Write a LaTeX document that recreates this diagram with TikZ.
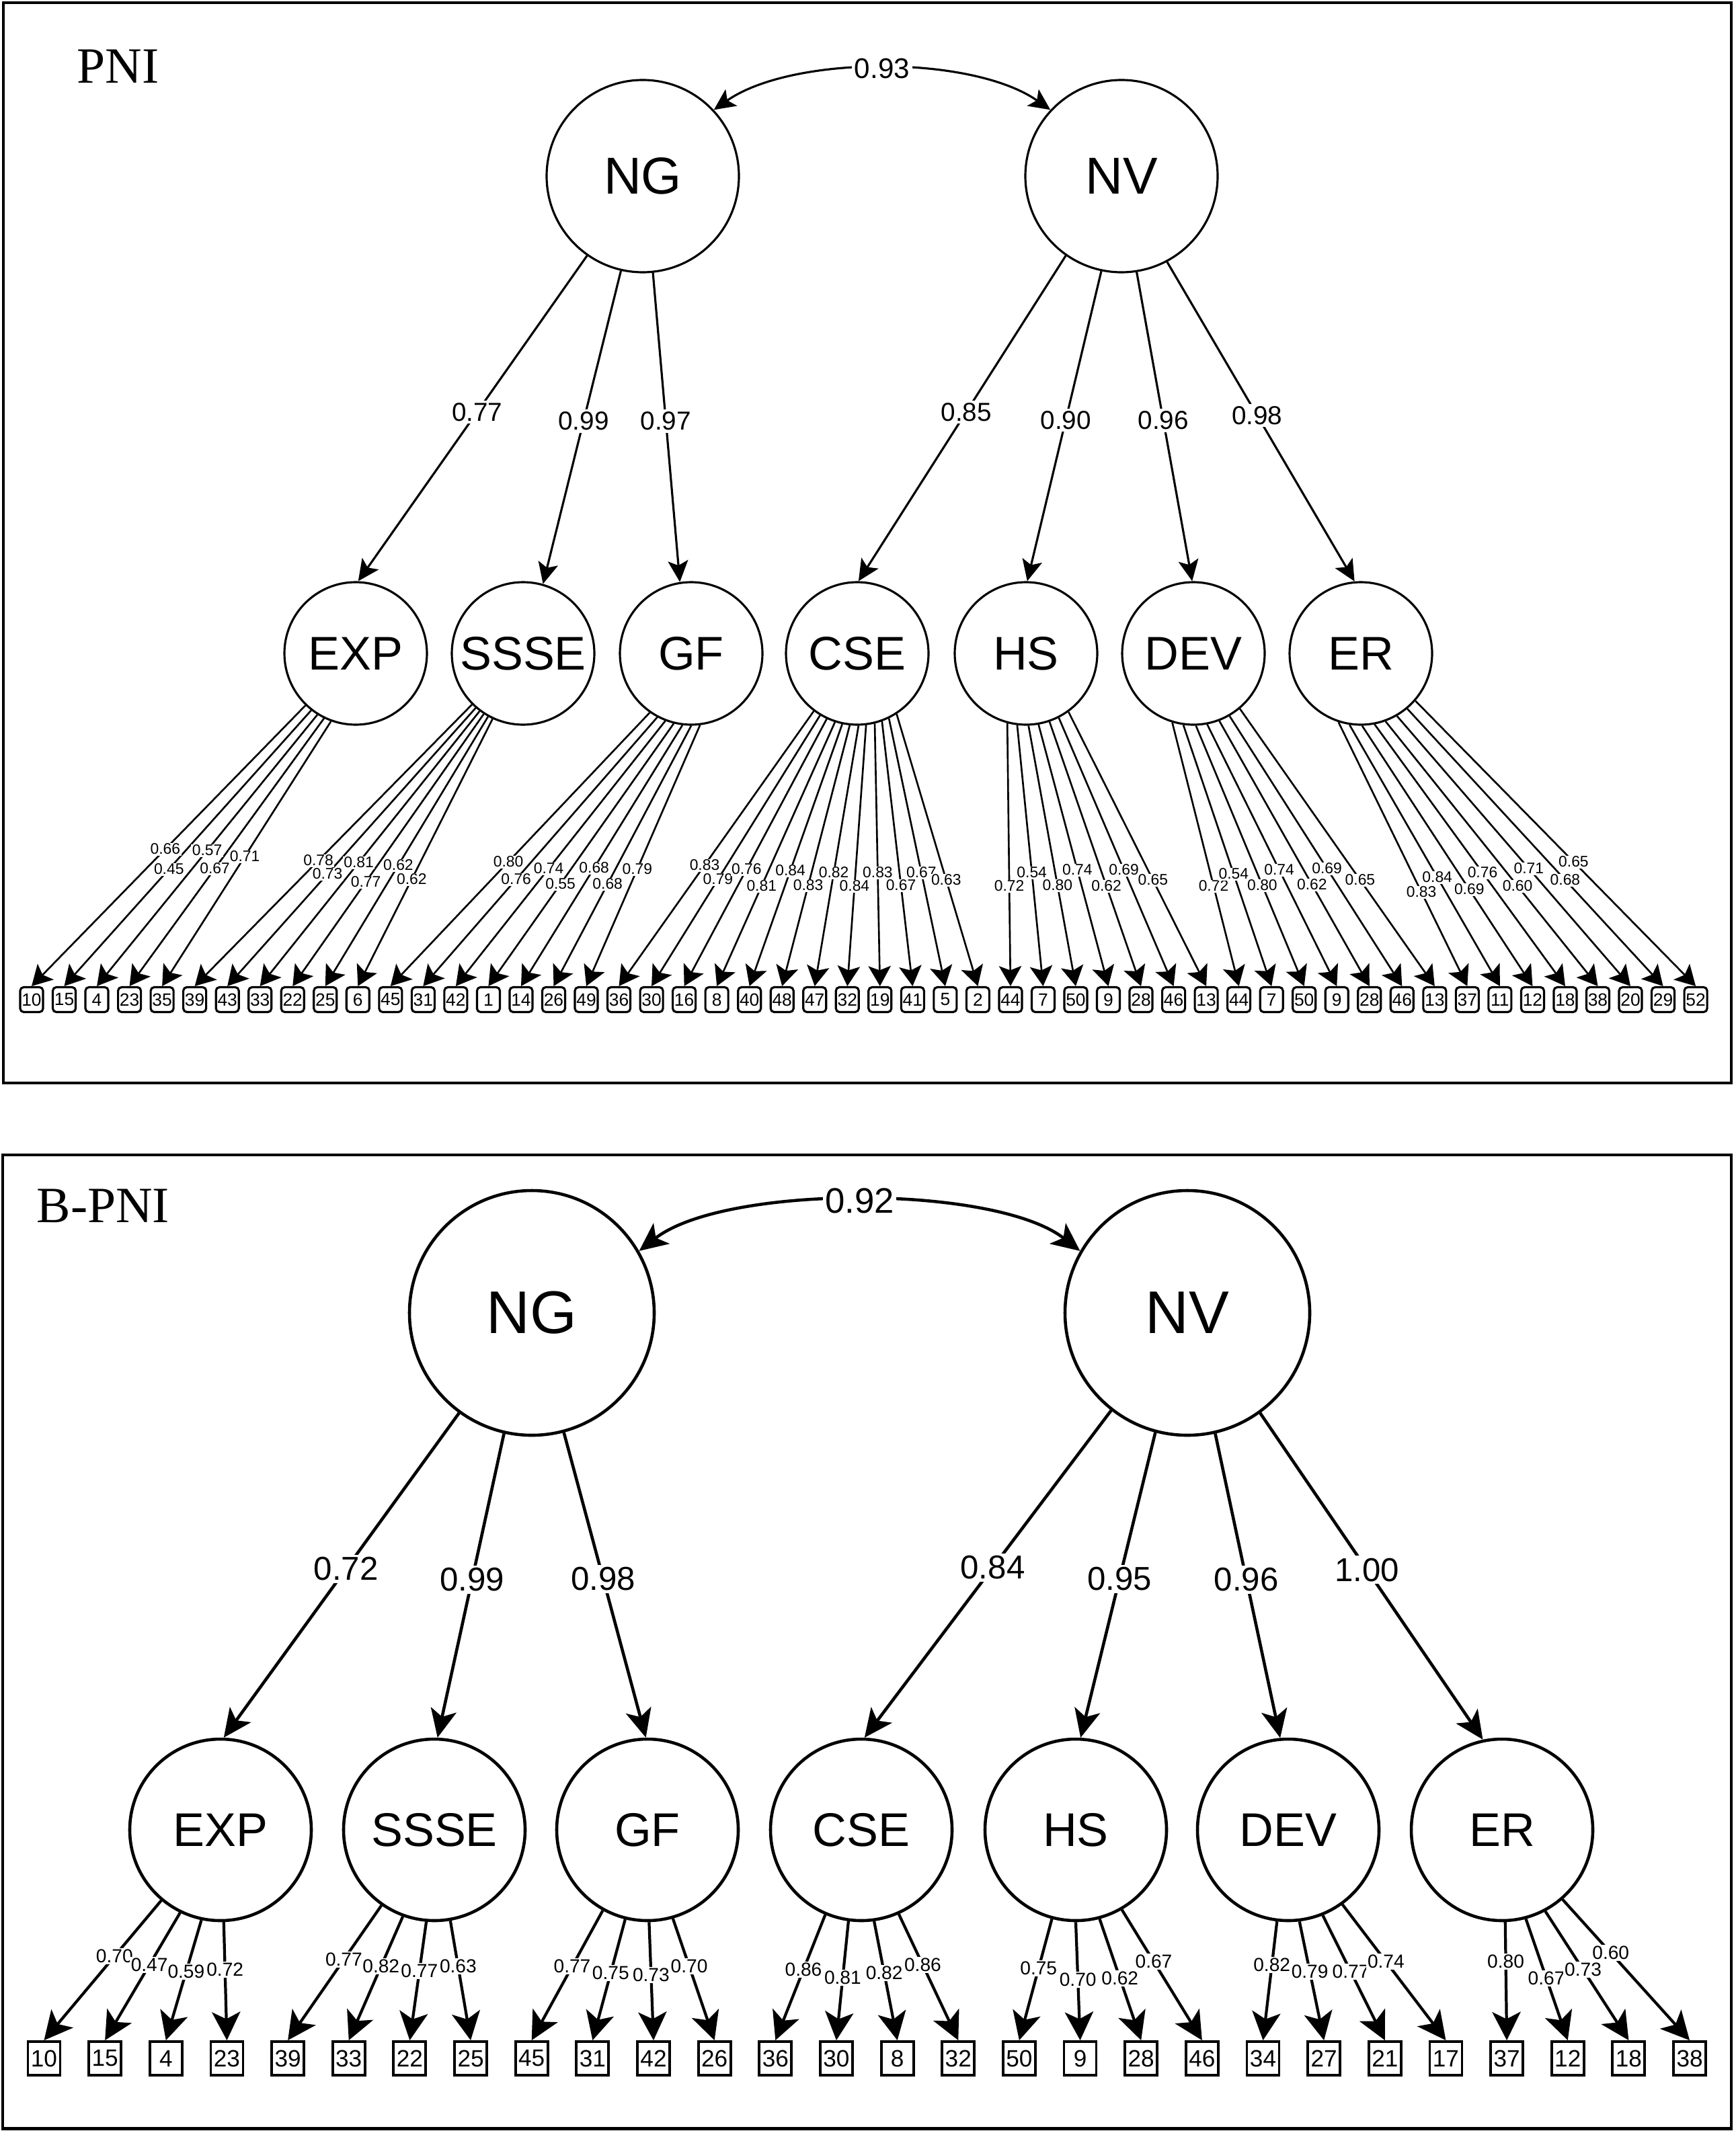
\documentclass[tikz,border=0pt]{standalone}
\usepackage{fontspec}
\setmainfont{Liberation Serif}
\setsansfont{Liberation Sans}
\usetikzlibrary{arrows.meta}

\pgfdeclarelayer{edges}
\pgfsetlayers{edges,main}

% one factor and its items: #1 factor, #2 first angle, #3 angle step,
% #4 box prefix, #5 list of box/loading/label height
\newcommand{\itemfan}[5]{%
  \foreach \bx/\val/\ly [count=\k from 0] in {#5}{%
    \pgfmathtruncatemacro\angl{#2+\k*#3}%
    \path (#1.\angl); \pgfgetlastxy{\xs}{\ys}%
    \path (#4\bx.north); \pgfgetlastxy{\xe}{\ye}%
    \pgfmathsetmacro\where{(\ly*28.45276-(\ys))/((\ye)-(\ys))}%
    \begin{pgfonlayer}{edges}
      \draw[itemline] (#1.\angl) -- (#4\bx.north);
    \end{pgfonlayer}
    \path (#1.\angl) -- node[itemcoef, pos=\where] {\val} (#4\bx.north);
  }%
}

\begin{document}
\begin{tikzpicture}[
  % The frames:
  panel/.style={draw, line width=1.4pt},
  title/.style={inner sep=0pt, anchor=base west, font=\fontsize{21.5}{25}\selectfont},
  % The factors:
  factor/.style={circle, draw, inner sep=0pt},
  % The items:
  item/.style={rectangle, draw, inner sep=0pt},
  % The numbers on the arrows
  coef/.style={fill=white, inner sep=1pt}
]
\useasboundingbox (0,0) rectangle (25.81,-31.70);

%% PNI
\begin{scope}[
  gfactor/.style={factor, minimum size=2.86cm, line width=0.9pt,
    font=\sffamily\fontsize{22}{26}\selectfont},
  sfactor/.style={factor, minimum size=2.12cm, line width=0.9pt,
    font=\sffamily\fontsize{20}{24}\selectfont},
  itembox/.style={item, minimum width=0.34cm, minimum height=0.37cm,
    rounded corners=1.5pt, line width=0.9pt,
    font=\sffamily\fontsize{7.5}{9}\selectfont},
  factorline/.style={line width=0.9pt, -{Stealth[length=9pt, width=8.5pt, inset=2pt]}},
  covline/.style={line width=0.9pt,
    {Stealth[length=9pt, width=8.5pt, inset=2pt]}-{Stealth[length=9pt, width=8.5pt, inset=2pt]}},
  itemline/.style={line width=0.75pt, -{Stealth[length=8.5pt, width=9.5pt, inset=1.8pt]}},
  factorcoef/.style={coef, font=\sffamily\fontsize{11}{13}\selectfont},
  covcoef/.style={coef, font=\sffamily\fontsize{12}{14}\selectfont},
  itemcoef/.style={coef, inner sep=0.4pt, font=\sffamily\fontsize{6.5}{7.5}\selectfont}
]
\draw[panel] (0.05,-0.04) rectangle (25.75,-16.11);
\node[title] (pni) at (1.14,-1.24) {PNI};

\node[gfactor] (NG) at (9.56,-2.62) {NG};
\node[gfactor] (NV) at (16.68,-2.62) {NV};
\draw[covline] (NG.43) to[out=35, in=145, looseness=0.73] node[covcoef] {0.93} (NV.137);

\foreach \f/\x in {EXP/5.29, SSSE/7.78, GF/10.28, CSE/12.75, HS/15.26, DEV/17.75, ER/20.24}
  \node[sfactor] (\f) at (\x,-9.72) {\f};

\foreach \g/\ga/\v/\f/\fa in {NG/235/0.77/EXP/88, NG/257/0.99/SSSE/74, NG/276/0.97/GF/99,
    NV/235/0.85/CSE/89, NV/258/0.90/HS/89, NV/279/0.96/DEV/91, NV/298/0.98/ER/95}
  \draw[factorline] (\g.\ga) -- node[factorcoef, pos=0.48] {\v} (\f.\fa);

\foreach \lab [count=\i] in {10,15,4,23,35,39,43,33,22,25,6,45,31,42,1,14,26,49,
    36,30,16,8,40,48,47,32,19,41,5,2,44,7,50,9,28,46,13,44,7,50,9,28,46,13,
    37,11,12,18,38,20,29,52}
  \node[itembox] (t\i) at ({0.47+(\i-1)*0.4853},-14.87) {\lab};

\itemfan{EXP}{226}{6}{t}{1/0.66/-12.63, 2/0.45/-12.93, 3/0.57/-12.65, 4/0.67/-12.92, 5/0.71/-12.74}
\itemfan{SSSE}{225}{4}{t}{6/0.78/-12.80, 7/0.73/-13.00, 8/0.81/-12.83, 9/0.77/-13.12, 10/0.62/-12.87, 11/0.62/-13.08}
\itemfan{GF}{235}{7}{t}{12/0.80/-12.82, 13/0.76/-13.08, 14/0.74/-12.92, 15/0.55/-13.15, 16/0.68/-12.91, 17/0.68/-13.15, 18/0.79/-12.93}
\itemfan{CSE}{233}{6.4}{t}{19/0.83/-12.87, 20/0.79/-13.08, 21/0.76/-12.93, 22/0.81/-13.18, 23/0.84/-12.95, 24/0.83/-13.17, 25/0.82/-12.98, 26/0.84/-13.18, 27/0.83/-12.98, 28/0.67/-13.17, 29/0.67/-12.98, 30/0.63/-13.09}
\itemfan{HS}{255}{8.5}{t}{31/0.72/-13.18, 32/0.54/-12.98, 33/0.80/-13.17, 34/0.74/-12.94, 35/0.62/-13.18, 36/0.69/-12.94, 37/0.65/-13.09}
\itemfan{DEV}{253}{9.5}{t}{38/0.72/-13.18, 39/0.54/-13.00, 40/0.80/-13.17, 41/0.74/-12.94, 42/0.62/-13.16, 43/0.69/-12.92, 44/0.65/-13.09}
\itemfan{ER}{252}{9.7}{t}{45/0.83/-13.27, 46/0.84/-13.05, 47/0.69/-13.23, 48/0.76/-12.98, 49/0.60/-13.18, 50/0.71/-12.92, 51/0.68/-13.09, 52/0.65/-12.82}
\end{scope}

%% B-PNI
\begin{scope}[
  gfactor/.style={factor, minimum size=3.64cm, line width=1.3pt,
    font=\sffamily\fontsize{25.5}{30}\selectfont},
  sfactor/.style={factor, minimum size=2.70cm, line width=1.3pt,
    font=\sffamily\fontsize{20}{24}\selectfont},
  itembox/.style={item, minimum width=0.48cm, minimum height=0.50cm, line width=1.1pt,
    font=\sffamily\fontsize{10}{12}\selectfont},
  factorline/.style={line width=1.3pt, -{Stealth[length=12pt, width=11pt, inset=3pt]}},
  covline/.style={line width=1.3pt,
    {Stealth[length=12pt, width=11pt, inset=3pt]}-{Stealth[length=12pt, width=11pt, inset=3pt]}},
  itemline/.style={line width=1.2pt, -{Stealth[length=12pt, width=12pt, inset=3pt]}},
  factorcoef/.style={coef, font=\sffamily\fontsize{14}{16}\selectfont},
  covcoef/.style={coef, font=\sffamily\fontsize{15}{18}\selectfont},
  itemcoef/.style={coef, inner sep=0.6pt, font=\sffamily\fontsize{8}{10}\selectfont}
]
\draw[panel] (0.04,-17.18) rectangle (25.75,-31.66);
\node[title] (bpni) at (0.54,-18.18) {B-PNI};

\node[gfactor] (bNG) at (7.91,-19.53) {NG};
\node[gfactor] (bNV) at (17.66,-19.53) {NV};
\draw[covline] (bNG.30) to[out=38, in=142, looseness=0.63] node[covcoef] {0.92} (bNV.150);

\foreach \f/\x in {EXP/3.28, SSSE/6.46, GF/9.63, CSE/12.81, HS/16.00, DEV/19.16, ER/22.34}
  \node[sfactor] (b\f) at (\x,-27.22) {\f};

\foreach \g/\ga/\v/\f/\fa in {NG/234/0.72/EXP/88, NG/257/0.99/SSSE/88, NG/285/0.98/GF/91,
    NV/232/0.84/CSE/88, NV/255/0.95/HS/87, NV/283/0.96/DEV/95, NV/306/1.00/ER/102}
  \draw[factorline] (b\g.\ga) -- node[factorcoef, pos=0.48] {\v} (b\f.\fa);

\foreach \lab [count=\i] in {10,15,4,23,39,33,22,25,45,31,42,26,36,30,8,32,
    50,9,28,46,34,27,21,17,37,12,18,38}
  \node[itembox] (b\i) at ({0.655+(\i-1)*0.9065},-30.62) {\lab};

\itemfan{bEXP}{230}{14}{b}{1/0.70/-29.10, 2/0.47/-29.23, 3/0.59/-29.33, 4/0.72/-29.30}
\itemfan{bSSSE}{235}{15}{b}{5/0.77/-29.15, 6/0.82/-29.25, 7/0.77/-29.32, 8/0.63/-29.25}
\itemfan{bGF}{241}{15}{b}{9/0.77/-29.25, 10/0.75/-29.35, 11/0.73/-29.38, 12/0.70/-29.25}
\itemfan{bCSE}{247}{15.7}{b}{13/0.86/-29.30, 14/0.81/-29.42, 15/0.82/-29.35, 16/0.86/-29.23}
\itemfan{bHS}{255}{15.3}{b}{17/0.75/-29.28, 18/0.70/-29.45, 19/0.62/-29.43, 20/0.67/-29.18}
\itemfan{bDEV}{263}{14.5}{b}{21/0.82/-29.23, 22/0.79/-29.33, 23/0.77/-29.33, 24/0.74/-29.18}
\itemfan{bER}{272}{13}{b}{25/0.80/-29.18, 26/0.67/-29.43, 27/0.73/-29.30, 28/0.60/-29.05}
\end{scope}
\end{tikzpicture}
\end{document}
